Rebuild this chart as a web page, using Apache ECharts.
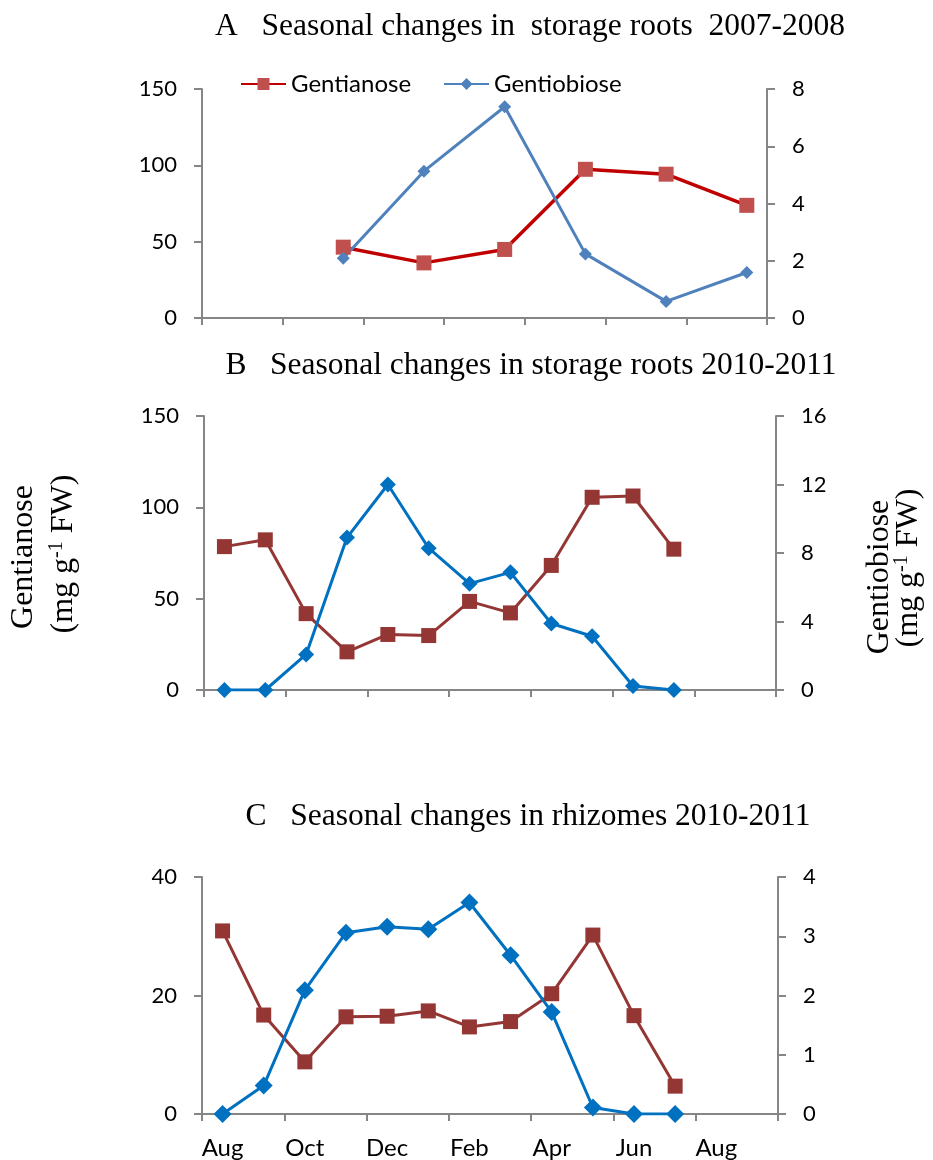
<!DOCTYPE html>
<html><head><meta charset="utf-8">
<script src="https://cdn.jsdelivr.net/npm/echarts@6/dist/echarts.min.js"></script>
<style>html,body{margin:0;padding:0;background:#fff}#c{width:933px;height:1160px}</style>
</head><body><div id="c"></div>
<script>
// Monthly categories (Aug .. Sep of following year)
var months = ['Aug','Sep','Oct','Nov','Dec','Jan','Feb','Mar','Apr','May','Jun','Jul','Aug','Sep'];
// Panel A: storage roots 2007-2008 (bi-monthly sampling)
var gentianoseA = [null,null,null,46.4,null,36.1,null,44.9,null,97.4,null,94.2,null,73.8];
var gentiobioseA = [null,null,null,2.09,null,5.13,null,7.38,null,2.24,null,0.58,null,1.59];
// Panel B: storage roots 2010-2011
var gentianoseB = [78.5,82.2,41.8,20.9,30.4,29.8,48.5,42.2,68.2,105.5,106.2,77.1,null,null];
var gentiobioseB = [0,0,2.08,8.9,12.0,8.28,6.21,6.87,3.88,3.14,0.23,0,null,null];
// Panel C: rhizomes 2010-2011
var gentianoseC = [30.9,16.7,8.8,16.4,16.5,17.4,14.7,15.6,20.3,30.2,16.6,4.7,null,null];
var gentiobioseC = [0,0.48,2.09,3.06,3.16,3.12,3.57,2.68,1.72,0.11,0,0,null,null];

var titles = ['A   Seasonal changes in  storage roots  2007-2008',
              'B   Seasonal changes in storage roots 2010-2011',
              'C   Seasonal changes in rhizomes 2010-2011'];

var sans = 'Lato, "Liberation Sans", sans-serif';
var serif = '"Liberation Serif", "Times New Roman", serif';
var axisGray = '#868686';
var diamond = 'path://M0,-1 L1,0 L0,1 L-1,0 Z';

function xAx(gi, showLabels){
  return {type:'category', gridIndex:gi, data:months, boundaryGap:true,
    axisLine:{show:true, lineStyle:{color:axisGray, width:2}},
    axisTick:{show:true, interval:1, length:7, lineStyle:{color:axisGray, width:2}},
    axisLabel:{show:showLabels, interval:1, color:'#000', fontFamily:sans, fontSize:24, margin:22},
    splitLine:{show:false}};
}
function yAx(gi, pos, max, interval){
  return {type:'value', gridIndex:gi, position:pos, min:0, max:max, interval:interval,
    axisLine:{show:true, lineStyle:{color:axisGray, width:2}},
    axisTick:{show:true, length:8, lineStyle:{color:axisGray, width:2}},
    axisLabel:{color:'#000', fontFamily:sans, fontSize:22, margin:25},
    splitLine:{show:false}};
}
function line(name, xi, yi, data, lineColor, markColor, sym, size, w){
  return {name:name, type:'line', xAxisIndex:xi, yAxisIndex:yi, data:data, connectNulls:true,
    symbol:sym, symbolSize:size, showSymbol:true, animation:false,
    lineStyle:{color:lineColor, width:w},
    itemStyle:{color:markColor, borderWidth:0}};
}
function titleText(t, x, y){
  return {type:'text', x:x, y:y, style:{text:t, font:'31.5px '+serif, fill:'#000', textAlign:'center', textVerticalAlign:'middle'}};
}
var unitRich = {a:{font:'32px '+serif, fill:'#000', color:'#000'},
                s:{font:'20px '+serif, color:'#000', fill:'#000', verticalAlign:'top', padding:[0,0,14,0]}};

var chart = echarts.init(document.getElementById('c'), null, {renderer:'canvas'});
chart.setOption({
  backgroundColor:'#fff',
  animation:false,
  legend: {show:true, left:235, top:67, itemWidth:45, itemHeight:15, itemGap:32,
    data:['Gentianose','Gentiobiose'],
    textStyle:{fontFamily:sans, fontSize:24, color:'#000'}},
  grid: [
    {left:202, top:89, width:565, height:229},
    {left:204, top:416, width:572, height:274},
    {left:202, top:877, width:576, height:237}
  ],
  xAxis: [xAx(0,false), xAx(1,false), xAx(2,true)],
  yAxis: [yAx(0,'left',150,50), yAx(0,'right',8,2),
          yAx(1,'left',150,50), yAx(1,'right',16,4),
          yAx(2,'left',40,20), yAx(2,'right',4,1)],
  series: [
    line('Gentianose',0,0,gentianoseA,'#C00000','#C0504D','rect',15,3.5),
    line('Gentiobiose',0,1,gentiobioseA,'#4F81BD','#4F81BD',diamond,13,3),
    line('GentianoseB',1,2,gentianoseB,'#943634','#943634','rect',15,3),
    line('GentiobioseB',1,3,gentiobioseB,'#0070C0','#0070C0',diamond,16,3),
    line('GentianoseC',2,4,gentianoseC,'#943634','#943634','rect',15,3),
    line('GentiobioseC',2,5,gentiobioseC,'#0070C0','#0070C0',diamond,18,3)
  ],
  graphic: [
    titleText(titles[0], 530, 27),
    titleText(titles[1], 531, 366),
    titleText(titles[2], 528, 817),
    {type:'text', x:24, y:557, rotation:Math.PI/2, style:{text:'Gentianose', font:'32px '+serif, fill:'#000', textAlign:'center', textVerticalAlign:'middle'}},
    {type:'text', x:64, y:554, rotation:Math.PI/2, style:{text:'{a|(mg g}{s|-1}{a| FW)}', textAlign:'center', textVerticalAlign:'middle', rich:unitRich}},
    {type:'text', x:880, y:577, rotation:Math.PI/2, style:{text:'Gentiobiose', font:'32px '+serif, fill:'#000', textAlign:'center', textVerticalAlign:'middle'}},
    {type:'text', x:909, y:568, rotation:Math.PI/2, style:{text:'{a|(mg g}{s|-1}{a| FW)}', textAlign:'center', textVerticalAlign:'middle', rich:unitRich}}
  ]
});
</script></body></html>
